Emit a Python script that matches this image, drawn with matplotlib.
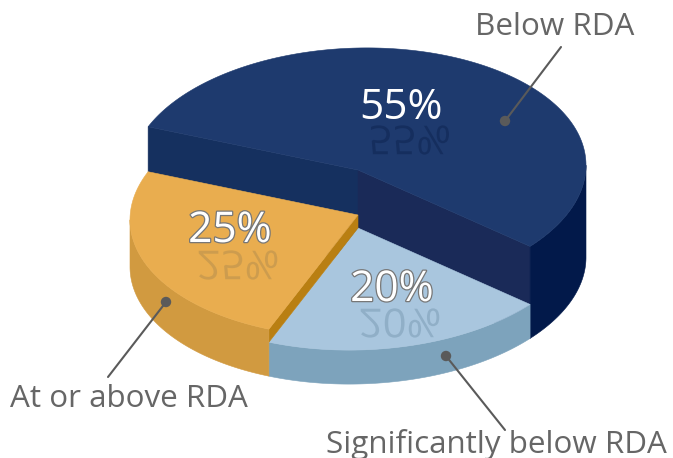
import numpy as np
import matplotlib
matplotlib.use("Agg")
import matplotlib.pyplot as plt
from matplotlib.patches import Polygon, PathPatch, Circle
from matplotlib.textpath import TextPath
from matplotlib.font_manager import FontProperties
from matplotlib.transforms import Affine2D
import matplotlib.patheffects as pe

# data (clockwise from the start angle)
categories = ["Below RDA", "Significantly below RDA", "At or above RDA"]
shares = [55, 20, 25]
pct_labels = ["55%", "20%", "25%"]

# styling
START = 157.0
CX, BASE_Y, RX, RY = 358.0, 262.0, 228.0, 122.0
TILT = -0.021
heights = [92, 34, 47]
top_cols = ["#1E3A6E", "#A9C6DE", "#E9AD4F"]
outer_cols = ["#02194A", "#7DA3BC", "#D19A40"]
refl_cols = ["#142C5C", "#8CABC4", "#C89A4E"]
label_xy = [(401, 108), (392, 290), (230, 231)]
refl_xy = [(410, 140), (400, 323), (238, 265)]
outline = [None, "#777777", "#777777"]
leaders = [((505, 121), (561, 47)), ((446, 356), (505, 430)), ((166, 302), (108, 377))]
name_pos = [(555, 27), (496, 444), (129, 399)]
FONT = "Open Sans"
PCT_SIZE = 30.5
NAME_SIZE = 22.6

fig = plt.figure(figsize=(6.73, 4.58), dpi=100)
ax = fig.add_axes([0, 0, 1, 1])
ax.set_xlim(0, 673)
ax.set_ylim(458, 0)
ax.axis("off")


def pt(t, cy):
    r = np.radians(t)
    x = RX * np.cos(r)
    return np.column_stack([CX + x, cy - RY * np.sin(r) + TILT * x])


def poly(xy, c, z):
    ax.add_patch(Polygon(xy, closed=True, fc=c, ec=c, lw=0.4, zorder=z))


# angular spans
total = sum(shares)
edges = [START]
for s in shares:
    edges.append(edges[-1] - 360.0 * s / total)


def outer_side(t0, t1, h, c, z):
    ts = np.linspace(t0, t1, 120)
    top = pt(ts, BASE_Y - h)
    bot = pt(ts[::-1], BASE_Y)
    poly(np.vstack([top, bot]), c, z)


def top_face(t0, t1, h, c, z):
    ts = np.linspace(t0, t1, 200)
    poly(np.vstack([[(CX, BASE_Y - h)], pt(ts, BASE_Y - h)]), c, z)


def inner_face(t, h_top, h_bot, c, z):
    p_top = pt(np.array([t]), BASE_Y - h_top)[0]
    p_bot = pt(np.array([t]), BASE_Y - h_bot)[0]
    poly([(CX, BASE_Y - h_top), p_top, p_bot, (CX, BASE_Y - h_bot)], c, z)


# slice 0: tall blue block
inner_face(edges[0], heights[0], 0, "#15305F", 1)
inner_face(edges[1], heights[0], 0, "#1A2A58", 1.1)
outer_side(edges[1], 0, heights[0], outer_cols[0], 1.2)
top_face(edges[0], edges[1], heights[0], top_cols[0], 1.3)

# slice 1: light blue
outer_side(edges[2], edges[1], heights[1], outer_cols[1], 2)
top_face(edges[1], edges[2], heights[1], top_cols[1], 2.1)

# slice 2: orange
inner_face(edges[2], heights[2], heights[1], "#B97F12", 3)
outer_side(180, edges[2] + 360, heights[2], outer_cols[2], 3.1)
top_face(edges[2] + 360, edges[3] + 360, heights[2], top_cols[2], 3.2)

# mirrored percentage shadows (decoration)
fp = FontProperties(family=FONT)
for lab, (x, y), c in zip(pct_labels, refl_xy, refl_cols):
    tp = TextPath((0, 0), lab, prop=fp, size=42)
    bb = tp.get_extents()
    tr = Affine2D().translate(-bb.x0 - bb.width / 2, -bb.y0 - bb.height / 2).scale(1.0, 0.95).translate(x, y)
    ax.add_patch(PathPatch(tp, transform=tr + ax.transData, fc=c, ec="none", alpha=0.85, zorder=4))

# percentage labels
for lab, (x, y), oc in zip(pct_labels, label_xy, outline):
    t = ax.text(x, y, lab, ha="center", va="center", color="white", fontsize=PCT_SIZE,
                family=FONT, zorder=6)
    if oc:
        t.set_path_effects([pe.withStroke(linewidth=1.8, foreground=oc)])

# leaders and names
for (p0, p1) in leaders:
    ax.plot([p0[0], p1[0]], [p0[1], p1[1]], color="#5A5A5A", lw=1.5, zorder=7, solid_capstyle="round")
    ax.add_patch(Circle(p0, 5.2, fc="#5A5A5A", ec="none", zorder=8))
for name, (x, y) in zip(categories, name_pos):
    ax.text(x, y, name, ha="center", va="center", color="#666666", fontsize=NAME_SIZE, family=FONT, zorder=9)

fig.savefig("out.png", dpi=100)
